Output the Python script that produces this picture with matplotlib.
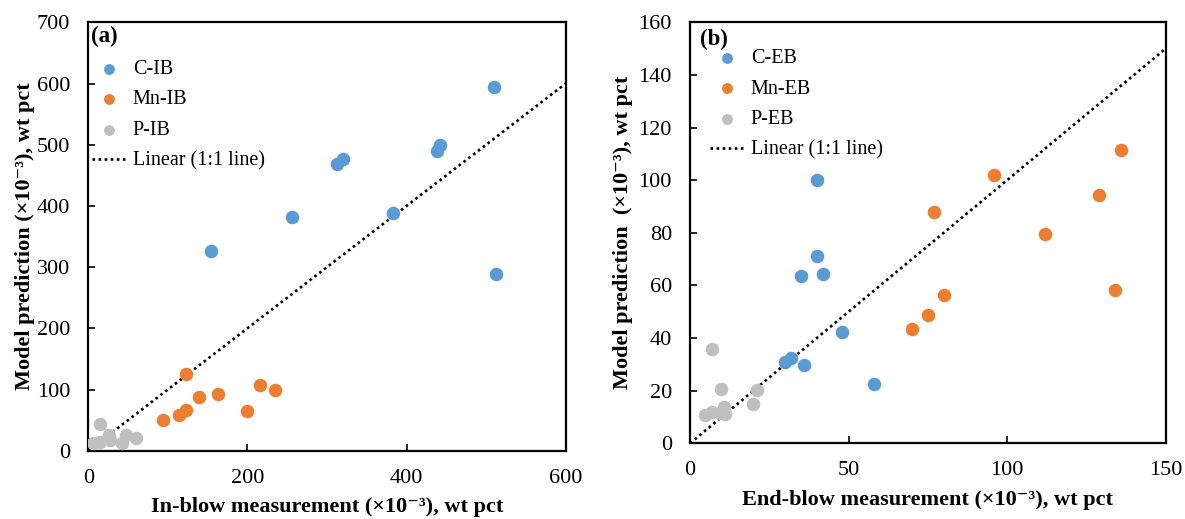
import matplotlib
matplotlib.use("Agg")
import matplotlib.pyplot as plt

plt.rcParams['font.family'] = ['Liberation Serif', 'DejaVu Serif']

# in-blow (a)
c_ib_meas = [154, 256, 313, 320, 383, 438, 442, 510, 512]
c_ib_pred = [327, 382, 468, 477, 389, 489, 499, 594, 289]
mn_ib_meas = [94, 114, 123, 123, 139, 163, 200, 216, 235]
mn_ib_pred = [50, 58, 66, 125, 87, 93, 65, 108, 99]
p_ib_meas = [6, 15, 15, 26, 27, 42, 47, 60]
p_ib_pred = [13, 15, 44, 25, 17, 13, 26, 21]

# end-blow (b)
c_eb_meas = [40, 40, 35, 42, 48, 30, 32, 36, 58]
c_eb_pred = [100, 71.3, 63.4, 64.5, 42.3, 31, 32.5, 29.8, 22.6]
mn_eb_meas = [96, 77, 136, 129, 112, 80, 75, 70, 134]
mn_eb_pred = [102, 88, 111.5, 94.3, 79.5, 56.2, 48.6, 43.4, 58.4]
p_eb_meas = [6.8, 9.8, 21, 19.8, 4.8, 6.8, 9.5, 10.8, 11]
p_eb_pred = [35.9, 20.6, 20.4, 14.9, 10.9, 11.9, 11.5, 13.6, 11.3]

blue = '#5B9BD5'
orange = '#ED7D31'
grey = '#BFBFBF'

fig = plt.figure(figsize=(11.85, 5.19), dpi=100)
ax1 = fig.add_axes([0.0745, 0.1316, 0.4029, 0.8254])
ax2 = fig.add_axes([0.5823, 0.1459, 0.4014, 0.8112])


def draw(ax, series, names, xmax, ymax, xstep, ystep, tag, xlabel, ylabel,
         leg_anchor, tag_pos, ypad):
    for (mx, pr), name, col in zip(series, names, [blue, orange, grey]):
        ax.scatter(mx, pr, s=95, color=col, label=name, zorder=3, linewidths=0)
    # 1:1 reference line
    ax.plot([0, xmax], [0, xmax], color='black', linestyle=(0, (1, 1.3)),
            linewidth=1.9, label='Linear (1:1 line)', zorder=2)
    ax.set_xlim(0, xmax)
    ax.set_ylim(0, ymax)
    ax.set_xticks(range(0, xmax + 1, xstep))
    ax.set_yticks(range(0, ymax + 1, ystep))
    ax.tick_params(direction='in', length=5, width=1.2, labelsize=16, pad=13)
    for s in ax.spines.values():
        s.set_linewidth(1.6)
    ax.set_xlabel(xlabel, fontsize=16, fontweight='bold', labelpad=7)
    ax.set_ylabel(ylabel, fontsize=16, fontweight='bold', labelpad=ypad)
    ax.text(tag_pos[0], tag_pos[1], tag, transform=ax.transAxes, fontsize=16.5,
            fontweight='bold', va='center', ha='left')
    ax.legend(loc='upper left', bbox_to_anchor=leg_anchor, frameon=False,
              fontsize=14.5, handlelength=1.7, handletextpad=0.35,
              labelspacing=0.57, borderpad=0, borderaxespad=0, markerscale=0.8)


draw(ax1, [(c_ib_meas, c_ib_pred), (mn_ib_meas, mn_ib_pred), (p_ib_meas, p_ib_pred)],
     ['C-IB', 'Mn-IB', 'P-IB'], 600, 700, 200, 100, '(a)',
     'In-blow measurement (×10⁻³), wt pct', 'Model prediction (×10⁻³), wt pct',
     (0.007, 0.9125), (0.006, 0.966), 1.5)

draw(ax2, [(c_eb_meas, c_eb_pred), (mn_eb_meas, mn_eb_pred), (p_eb_meas, p_eb_pred)],
     ['C-EB', 'Mn-EB', 'P-EB'], 150, 160, 50, 20, '(b)',
     'End-blow measurement (×10⁻³), wt pct', 'Model prediction  (×10⁻³), wt pct',
     (0.041, 0.9366), (0.021, 0.958), 4)

fig.savefig('out.png', dpi=100)
